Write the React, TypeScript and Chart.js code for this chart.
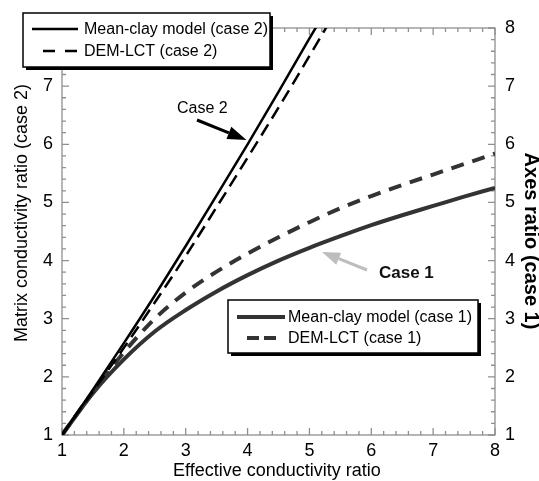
import React, { useEffect, useRef } from 'react';
import { Chart, registerables } from 'chart.js';

Chart.register(...registerables);

// x values (effective conductivity ratio)
const xCase1 = [1, 1.5, 2, 2.5, 3, 3.5, 4, 4.5, 5, 5.5, 6, 6.5, 7, 7.5, 8];
const meanClayCase1 = [1, 1.72, 2.3, 2.78, 3.15, 3.47, 3.75, 4.0, 4.22, 4.42, 4.61, 4.78, 4.94, 5.1, 5.25];
const demCase1 = [1, 1.74, 2.42, 3.0, 3.45, 3.81, 4.12, 4.4, 4.66, 4.9, 5.11, 5.3, 5.48, 5.66, 5.84];

const xCase2 = [1, 1.5, 2, 2.5, 3, 3.5, 4, 4.5, 5, 5.5];
const meanClayCase2 = [1, 1.78, 2.58, 3.4, 4.25, 5.12, 6.0, 6.9, 7.82, 8.72];
const demCase2 = [1, 1.75, 2.5, 3.28, 4.08, 4.92, 5.77, 6.63, 7.52, 8.42];

const axisMin = 1;
const axisMax = 8;
const minorStep = 0.2;

const labelCase2Mean = 'Mean-clay model (case 2)';
const labelCase2Dem = 'DEM-LCT (case 2)';
const labelCase1Mean = 'Mean-clay model (case 1)';
const labelCase1Dem = 'DEM-LCT (case 1)';
const xTitle = 'Effective conductivity ratio';
const yTitle = 'Matrix conductivity ratio (case 2)';
const y2Title = 'Axes ratio (case 1)';

const FONT = '"Liberation Sans", Arial, sans-serif';
const CASE1_COLOR = '#333333';

const pts = (xs: number[], ys: number[]) => xs.map((x, i) => ({ x, y: ys[i] }));

function drawArrow(ctx: CanvasRenderingContext2D, x1: number, y1: number, x2: number, y2: number, color: string, lw: number, hl: number, hw: number) {
  const ang = Math.atan2(y2 - y1, x2 - x1);
  const bx = x2 - hl * Math.cos(ang);
  const by = y2 - hl * Math.sin(ang);
  ctx.save();
  ctx.strokeStyle = color;
  ctx.fillStyle = color;
  ctx.lineWidth = lw;
  ctx.beginPath();
  ctx.moveTo(x1, y1);
  ctx.lineTo(bx, by);
  ctx.stroke();
  ctx.beginPath();
  ctx.moveTo(x2, y2);
  ctx.lineTo(bx + (hw / 2) * Math.sin(ang), by - (hw / 2) * Math.cos(ang));
  ctx.lineTo(bx - (hw / 2) * Math.sin(ang), by + (hw / 2) * Math.cos(ang));
  ctx.closePath();
  ctx.fill();
  ctx.restore();
}

type Entry = { label: string; color: string; width: number; dash: number[]; x1: number; x2: number; y: number };

function drawLegendBox(ctx: CanvasRenderingContext2D, bx: number, by: number, bw: number, bh: number, textX: number, entries: Entry[]) {
  ctx.save();
  ctx.fillStyle = '#000';
  ctx.fillRect(bx + 3, by + 3, bw, bh);
  ctx.fillStyle = '#fff';
  ctx.fillRect(bx, by, bw, bh);
  ctx.strokeStyle = '#000';
  ctx.lineWidth = 1.5;
  ctx.strokeRect(bx, by, bw, bh);
  ctx.font = `16px ${FONT}`;
  ctx.textBaseline = 'middle';
  ctx.textAlign = 'left';
  for (const e of entries) {
    ctx.strokeStyle = e.color;
    ctx.lineWidth = e.width;
    ctx.setLineDash(e.dash);
    ctx.beginPath();
    ctx.moveTo(e.x1, e.y);
    ctx.lineTo(e.x2, e.y);
    ctx.stroke();
    ctx.setLineDash([]);
    ctx.fillStyle = '#000';
    ctx.fillText(e.label, textX, e.y + 1);
  }
  ctx.restore();
}

const framePlugin = {
  id: 'frameTicks',
  beforeDatasetsDraw(chart: any) {
    const { ctx, chartArea } = chart;
    const { left, right, top, bottom } = chartArea;
    const xs = chart.scales.x;
    const ys = chart.scales.y;
    ctx.save();
    ctx.strokeStyle = '#8f8f8f';
    ctx.lineWidth = 1.3;
    ctx.strokeRect(left, top, right - left, bottom - top);
    const n = Math.round((axisMax - axisMin) / minorStep);
    for (let i = 0; i <= n; i++) {
      const v = axisMin + i * minorStep;
      const len = i % 5 === 0 ? 7 : 4;
      const px = xs.getPixelForValue(v);
      const py = ys.getPixelForValue(v);
      ctx.beginPath();
      ctx.moveTo(px, bottom);
      ctx.lineTo(px, bottom - len);
      ctx.moveTo(px, top);
      ctx.lineTo(px, top + len);
      ctx.moveTo(left, py);
      ctx.lineTo(left + len, py);
      ctx.moveTo(right, py);
      ctx.lineTo(right - len, py);
      ctx.stroke();
    }
    ctx.restore();
  },
  afterDraw(chart: any) {
    const { ctx } = chart;
    // axis titles
    ctx.save();
    ctx.fillStyle = '#000';
    ctx.font = `18px ${FONT}`;
    ctx.textAlign = 'center';
    ctx.textBaseline = 'alphabetic';
    ctx.fillText(xTitle, 277, 476);
    ctx.save();
    ctx.translate(27, 213);
    ctx.rotate(-Math.PI / 2);
    ctx.fillText(yTitle, 0, 0);
    ctx.restore();
    ctx.save();
    ctx.font = `bold 20px ${FONT}`;
    ctx.translate(525, 241);
    ctx.rotate(Math.PI / 2);
    ctx.fillText(y2Title, 0, 0);
    ctx.restore();
    ctx.restore();

    // legends
    drawLegendBox(ctx, 23, 13, 247, 54, 84, [
      { label: labelCase2Mean, color: '#000', width: 2.5, dash: [], x1: 32, x2: 78, y: 29 },
      { label: labelCase2Dem, color: '#000', width: 2.5, dash: [12, 10], x1: 43, x2: 78, y: 51 },
    ]);
    drawLegendBox(ctx, 228, 300, 250, 53, 288, [
      { label: labelCase1Mean, color: CASE1_COLOR, width: 4, dash: [], x1: 237, x2: 285, y: 317 },
      { label: labelCase1Dem, color: CASE1_COLOR, width: 4, dash: [12, 5], x1: 247, x2: 276, y: 338 },
    ]);

    // annotations
    ctx.save();
    ctx.fillStyle = '#000';
    ctx.font = `16px ${FONT}`;
    ctx.textAlign = 'left';
    ctx.textBaseline = 'middle';
    ctx.fillText('Case 2', 177, 109);
    drawArrow(ctx, 197, 120, 246.5, 140, '#000', 3, 19, 13);
    ctx.font = `bold 17px ${FONT}`;
    ctx.fillStyle = '#111';
    ctx.fillText('Case 1', 379, 273);
    drawArrow(ctx, 367, 270, 322, 252, '#bdbdbd', 3, 18, 13);
    ctx.restore();
  },
};

export default function App() {
  const ref = useRef<HTMLCanvasElement>(null);
  useEffect(() => {
    if (!ref.current) return;
    const tickFont = { family: FONT, size: 18 };
    const chart = new Chart(ref.current, {
      type: 'line',
      data: {
        datasets: [
          {
            label: labelCase2Mean,
            data: pts(xCase2, meanClayCase2),
            borderColor: '#000',
            borderWidth: 2.5,
            pointRadius: 0,
            cubicInterpolationMode: 'monotone',
            yAxisID: 'y',
          },
          {
            label: labelCase2Dem,
            data: pts(xCase2, demCase2),
            borderColor: '#000',
            borderWidth: 2.5,
            borderDash: [13, 7],
            pointRadius: 0,
            cubicInterpolationMode: 'monotone',
            yAxisID: 'y',
          },
          {
            label: labelCase1Mean,
            data: pts(xCase1, meanClayCase1),
            borderColor: CASE1_COLOR,
            borderWidth: 4,
            pointRadius: 0,
            cubicInterpolationMode: 'monotone',
            yAxisID: 'y2',
          },
          {
            label: labelCase1Dem,
            data: pts(xCase1, demCase1),
            borderColor: CASE1_COLOR,
            borderWidth: 4,
            borderDash: [13, 9],
            pointRadius: 0,
            cubicInterpolationMode: 'monotone',
            yAxisID: 'y2',
          },
        ],
      },
      options: {
        animation: false,
        responsive: false,
        devicePixelRatio: 1,
        layout: { padding: { top: 28, left: 0, right: 0, bottom: 0 } },
        plugins: { legend: { display: false }, tooltip: { enabled: false } },
        scales: {
          x: {
            type: 'linear',
            position: 'bottom',
            min: axisMin,
            max: axisMax,
            grid: { display: false, drawTicks: false },
            border: { display: false },
            ticks: { stepSize: 1, font: tickFont, color: '#000', padding: 5, maxRotation: 0, autoSkip: false },
            afterFit: (s: any) => { s.height = 46; },
          },
          y: {
            type: 'linear',
            position: 'left',
            min: axisMin,
            max: axisMax,
            grid: { display: false, drawTicks: false },
            border: { display: false },
            ticks: { stepSize: 1, font: tickFont, color: '#000', padding: 9, autoSkip: false },
            afterFit: (s: any) => { s.width = 62; },
          },
          y2: {
            type: 'linear',
            position: 'right',
            min: axisMin,
            max: axisMax,
            grid: { display: false, drawTicks: false },
            border: { display: false },
            ticks: { stepSize: 1, font: tickFont, color: '#000', padding: 10, autoSkip: false },
            afterFit: (s: any) => { s.width = 44; },
          },
        },
      },
      plugins: [framePlugin],
    } as any);
    return () => chart.destroy();
  }, []);
  return (
    <div style={{ position: 'absolute', left: 0, top: 0, width: 539, height: 481, background: '#fff' }}>
      <canvas ref={ref} width={539} height={481} style={{ display: 'block' }} />
    </div>
  );
}
